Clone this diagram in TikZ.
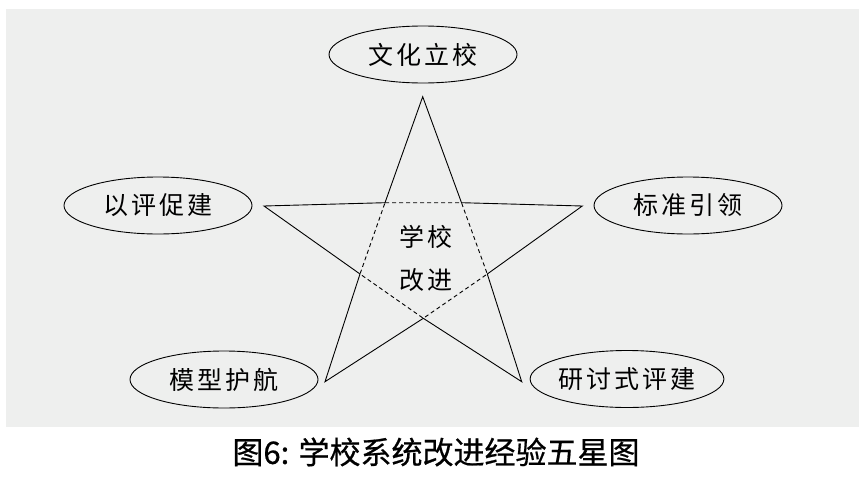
\documentclass[tikz,border=0pt]{standalone}
\usepackage{fontspec}
\newfontfamily\cjk[LetterSpace=12]{Noto Sans CJK SC}
\newfontfamily\cjkcap[FakeBold=0.6]{Noto Sans CJK SC}
\usetikzlibrary{shapes.geometric}
\definecolor{bggray}{HTML}{EEEFEE}
\tikzset{
  goal/.style={draw, ellipse, line width=0.9pt, minimum width=188pt, minimum height=57pt, inner sep=0pt,
    font=\cjk\fontsize{25}{25}\selectfont, text=black},
  starline/.style={line width=0.9pt, line join=miter},
  innerline/.style={line width=0.9pt, dash pattern=on 4pt off 3pt},
  centertext/.style={font=\cjk\fontsize{25}{25}\selectfont},
}
\begin{document}
\begin{tikzpicture}[x=1pt,y=-1pt]
\useasboundingbox (0,0) rectangle (864,482);
\fill[white] (0,0) rectangle (864,482);
\fill[bggray] (6,9) rectangle (859,427);
% ellipses
\node[goal] (wh) at (423,54.5) {文化立校};
\node[goal] (bz) at (688,205.5) {标准引领};
\node[goal] (yp) at (158,205.5) {以评促建};
\node[goal] (mx) at (224,379.5) {模型护航};
\node[goal] (yt) at (627,379) {研讨式评建};
% star points
\coordinate (top) at (422.7,96.7);
\coordinate (ol) at (264,206);
\coordinate (or) at (582.3,206);
\coordinate (obl) at (325,381.7);
\coordinate (obr) at (521.7,381.7);
\coordinate (itl) at (385,202.7);
\coordinate (itr) at (461.5,202.7);
\coordinate (il) at (360,274);
\coordinate (ir) at (487.3,274);
\coordinate (ib) at (423.3,318.3);
\draw[starline] (top) -- (itr) -- (or) -- (ir) -- (obr) -- (ib) -- (obl) -- (il) -- (ol) -- (itl) -- cycle;
\draw[innerline] (itl) -- (itr) -- (ir) -- (ib) -- (il) -- cycle;
\node[centertext] (c1) at (425.5,237) {学校};
\node[centertext] (c2) at (425.5,280) {改进};
% caption
\node[font=\cjkcap\fontsize{31}{31}\selectfont] (cap) at (436,452) {图6: 学校系统改进经验五星图};
\end{tikzpicture}
\end{document}
